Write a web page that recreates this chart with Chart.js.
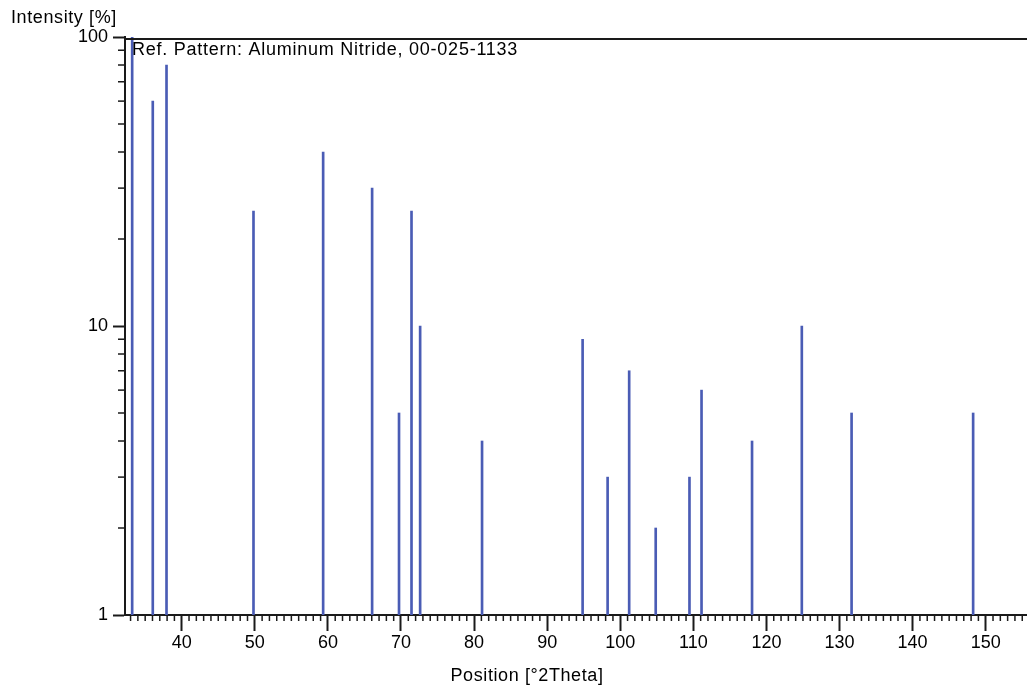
<!DOCTYPE html>
<html><head><meta charset="utf-8">
<script src="https://cdn.jsdelivr.net/npm/chart.js@4.4.1/dist/chart.umd.min.js"></script>
<style>html,body{margin:0;padding:0;background:#fff;overflow:hidden}</style>
</head><body>
<canvas id="c" width="1027" height="691"></canvas>
<script>
// Reference pattern: peak positions (°2Theta) and relative intensities (%)
const positions = [33.22, 36.04, 37.92, 49.82, 59.35, 66.05, 69.73, 71.44, 72.62, 81.09, 94.85, 98.27, 101.22, 104.85, 109.47, 111.12, 118.03, 124.84, 131.65, 148.28];
const intensities = [100, 60, 80, 25, 40, 30, 5, 25, 10, 4, 9, 3, 7, 2, 3, 6, 4, 10, 5, 5];
const xTicks = [40, 50, 60, 70, 80, 90, 100, 110, 120, 130, 140, 150];
const yTicks = [1, 10, 100];
const patternLabel = 'Ref. Pattern: Aluminum Nitride, 00-025-1133';
const xTitle = 'Position [°2Theta]';
const yTitle = 'Intensity [%]';

const FONT = 'Liberation Sans, Arial, sans-serif';
Chart.defaults.font.family = FONT;
Chart.defaults.font.size = 18;
Chart.defaults.color = '#000';

const axisColor = '#1a1a1a';

const decor = {
  id: 'decor',
  afterDatasetsDraw(chart) {
    const {ctx, chartArea: a} = chart;
    ctx.save();
    ctx.font = '18px ' + FONT;
    ctx.fillStyle = '#000';
    ctx.textBaseline = 'middle';
    ctx.textAlign = 'left';
    try { ctx.letterSpacing = '0.75px'; } catch (e) {}
    ctx.fillText(patternLabel, a.left + 7, 50);
    ctx.restore();
  },
  afterDraw(chart) {
    const {ctx, chartArea: a, scales: {x, y}} = chart;
    ctx.save();
    ctx.strokeStyle = axisColor;
    // top frame line
    ctx.lineWidth = 2;
    ctx.beginPath(); ctx.moveTo(a.left, 39); ctx.lineTo(a.right, 39); ctx.stroke();
    // minor x ticks
    ctx.lineWidth = 1.5;
    for (let v = Math.ceil(x.min); v <= x.max; v++) {
      if (v % 10 === 0) continue;
      const px = x.getPixelForValue(v);
      ctx.beginPath(); ctx.moveTo(px, a.bottom); ctx.lineTo(px, a.bottom + 6); ctx.stroke();
    }
    // minor y ticks (log)
    for (let d = 1; d < 100; d *= 10) {
      for (let m = 2; m <= 9; m++) {
        const py = y.getPixelForValue(d * m);
        ctx.beginPath(); ctx.moveTo(a.left - 7, py); ctx.lineTo(a.left, py); ctx.stroke();
      }
    }
    // titles
    ctx.fillStyle = '#000';
    ctx.font = '18px ' + FONT;
    ctx.textBaseline = 'middle';
    try { ctx.letterSpacing = '0.6px'; } catch (e) {}
    ctx.textAlign = 'left';
    ctx.fillText(yTitle, 11, 18);
    ctx.textAlign = 'center';
    ctx.fillText(xTitle, 527, 676);
    ctx.restore();
  }
};

new Chart(document.getElementById('c'), {
  type: 'bar',
  data: {
    datasets: [{
      data: positions.map((p, i) => ({x: p, y: [1, intensities[i]]})),
      backgroundColor: '#4a5cb5',
      borderWidth: 0,
      barThickness: 2
    }]
  },
  options: {
    responsive: false,
    animation: false,
    devicePixelRatio: 1,
    layout: {padding: {top: 37, left: 0, right: 0, bottom: 0}},
    plugins: {legend: {display: false}, tooltip: {enabled: false}},
    scales: {
      x: {
        type: 'linear',
        offset: false,
        min: 32.24,
        max: 155.65,
        afterBuildTicks: s => { s.ticks = xTicks.map(v => ({value: v})); },
        afterFit: s => { s.height = 76; },
        ticks: {padding: 1, maxRotation: 0, autoSkip: false, callback: v => String(v)},
        grid: {offset: false, drawOnChartArea: false, drawTicks: true, tickLength: 16, tickWidth: 2, tickColor: axisColor},
        border: {display: true, color: axisColor, width: 2}
      },
      y: {
        type: 'logarithmic',
        min: 1,
        max: 100,
        afterBuildTicks: s => { s.ticks = yTicks.map(v => ({value: v})); },
        afterFit: s => { s.width = 125; },
        ticks: {padding: 5, autoSkip: false, callback: v => String(v)},
        grid: {offset: false, drawOnChartArea: false, drawTicks: true, tickLength: 12, tickWidth: 2, tickColor: axisColor},
        border: {display: true, color: axisColor, width: 2}
      }
    }
  },
  plugins: [decor]
});
</script>
</body></html>
